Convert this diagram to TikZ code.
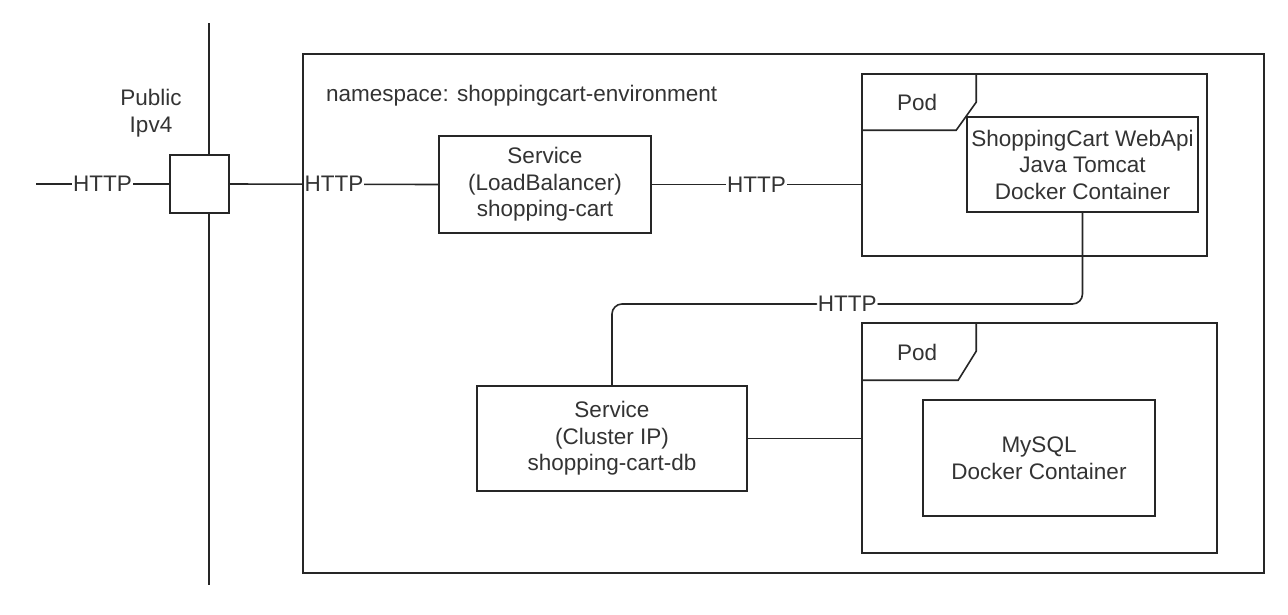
\documentclass[tikz,border=0pt]{standalone}
\usepackage{fontspec}
\setmainfont{Liberation Sans}
\begin{document}
\begin{tikzpicture}[x=1pt,y=-1pt,
  txt/.style={font=\fontsize{22.5}{26.5}\selectfont, text=black!80},
  box/.style={draw=black!85, line width=1.6pt, fill=white, inner sep=0pt, align=center, txt},
  wire/.style={draw=black!85, line width=1.6pt},
  lbl/.style={fill=white, inner sep=1pt, txt}]
\useasboundingbox (0,0) rectangle (1288,614);
% namespace
\node[box, fill=none, minimum width=961pt, minimum height=519pt] (ns) at (783.5,313.5) {};
\node[txt, anchor=west, inner sep=0pt] (nslbl) at (326,96) {namespace: shoppingcart-environment};
% public network line
\coordinate (vtop) at (209,23);
\coordinate (vbot) at (209,585);
\draw[wire] (vtop) -- (vbot);
\node[box, minimum width=59pt, minimum height=58pt] (sq) at (199.5,184) {};
\node[txt, align=center, inner sep=0pt] (pub) at (151,113) {Public\\Ipv4};
% services
\node[box, minimum width=212pt, minimum height=97pt] (svc1) at (545,184.5) {Service\\(LoadBalancer)\\shopping-cart};
\node[box, minimum width=270pt, minimum height=105pt] (svc2) at (612,438.5) {Service\\(Cluster IP)\\shopping-cart-db};
% pods
\node[box, minimum width=345pt, minimum height=182pt] (pod1) at (1034.5,165) {};
\draw[wire] (pod1.north west) ++(115,0) -- ++(0,29) -- ++(-20,28) -- ++(-95,0);
\node[txt, inner sep=0pt] (pod1lbl) at ([shift={(56,29)}]pod1.north west) {Pod};
\node[box, minimum width=231pt, minimum height=95pt] (cont1) at (1082.5,164.5) {ShoppingCart WebApi\\Java Tomcat\\Docker Container};
\node[box, minimum width=355pt, minimum height=230pt] (pod2) at (1039.5,438) {};
\draw[wire] (pod2.north west) ++(115,0) -- ++(0,29) -- ++(-18,29) -- ++(-97,0);
\node[txt, inner sep=0pt] (pod2lbl) at ([shift={(56,30)}]pod2.north west) {Pod};
\node[box, minimum width=232pt, minimum height=116pt] (cont2) at (1039,458) {MySQL\\Docker Container};
% connectors
\coordinate (in) at (36,184);
\draw[wire] (in) -- node[lbl] {HTTP} (sq.west);
\draw[wire] (sq.east) -- node[lbl] {HTTP} (svc1.west);
\draw[wire] (svc1.east) -- node[lbl] {HTTP} (svc1.east -| pod1.west);
\coordinate (hy) at (0,304);
\draw[wire, rounded corners=10pt] (cont1.south) -- (cont1.south |- hy) -- node[lbl] {HTTP} (svc2.north |- hy) -- (svc2.north);
\draw[wire] (svc2.east) -- (svc2.east -| pod2.west);
\end{tikzpicture}
\end{document}
